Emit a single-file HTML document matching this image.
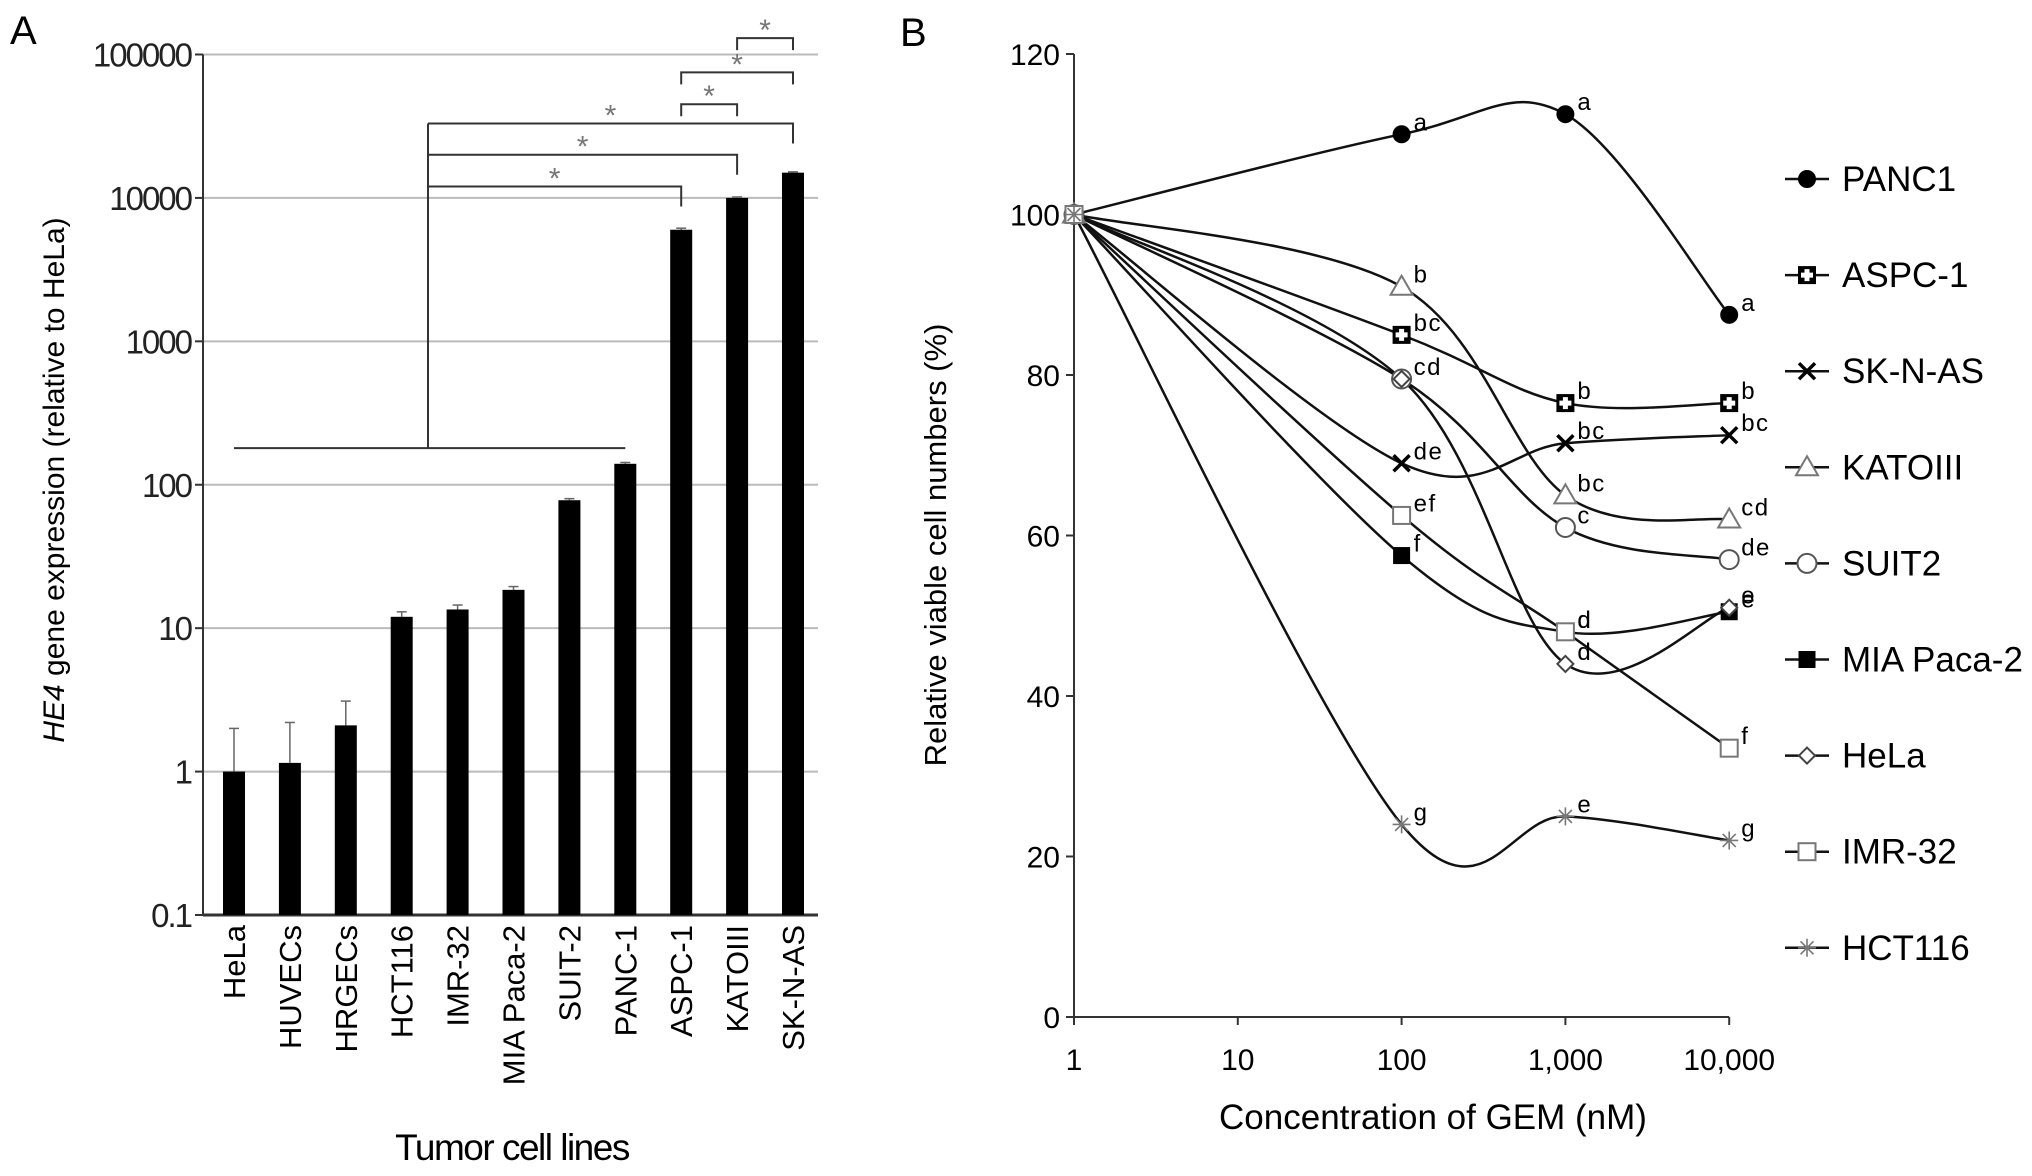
<!DOCTYPE html>
<html><head><meta charset="utf-8"><style>
html,body{margin:0;padding:0;background:#fff;}
svg{display:block;font-family:"Liberation Sans",sans-serif;}
</style></head><body>
<svg id="fig" width="2032" height="1176" viewBox="0 0 2032 1176" xmlns="http://www.w3.org/2000/svg"></svg>
<script>
// ---------- Panel A data ----------
const cellLines = ["HeLa","HUVECs","HRGECs","HCT116","IMR-32","MIA Paca-2","SUIT-2","PANC-1","ASPC-1","KATOIII","SK-N-AS"];
const expression = [1,1.15,2.1,12,13.5,18.5,78,140,6000,10000,15000];
const errorTop = [2.0,2.2,3.1,13,14.5,19.5,80,143,6150,10150,15200];
const aTicks = [0.1,1,10,100,1000,10000,100000];
const aTickLabels = ["0.1","1","10","100","1000","10000","100000"];
const bracketGroupIdx = [8,9,10];
const bracketLevels = [12000,20000,33000];
const smallBrackets = [[8,9,45000],[8,10,75000],[9,10,130000]];

// ---------- Panel B data ----------
const concentrations = [1,100,1000,10000];
const bTicks = [0,20,40,60,80,100,120];
const xTickLabels = ["1","10","100","1,000","10,000"];
const seriesNames = ["PANC1","ASPC-1","SK-N-AS","KATOIII","SUIT2","MIA Paca-2","HeLa","IMR-32","HCT116"];
const panc1 = [100,110,112.5,87.5];
const aspc1 = [100,85,76.5,76.5];
const sknas = [100,69,71.5,72.5];
const kato = [100,91,65,62];
const suit2 = [100,79.5,61,57];
const mia = [100,57.5,48,50.5];
const hela = [100,79.5,44,51];
const imr32 = [100,62.5,48,33.5];
const hct116 = [100,24,25,22];
const seriesValues = [panc1,aspc1,sknas,kato,suit2,mia,hela,imr32,hct116];
const seriesLetters = [
 ["","a","a","a"],["","bc","b","b"],["","de","bc","bc"],["","b","bc","cd"],
 ["","cd","c","de"],["","f","d","e"],["","","d","e"],["","ef","d","f"],["","g","e","g"]];

const NS="http://www.w3.org/2000/svg";
const svg=document.getElementById('fig');
function mk(tag,attrs,parent){const e=document.createElementNS(NS,tag);for(const k in attrs)e.setAttribute(k,attrs[k]);(parent||svg).appendChild(e);return e;}
function txt(s,attrs,parent){const e=mk('text',attrs,parent);e.textContent=s;return e;}

// ---------- Panel A ----------
const aX0=203,aX1=818,aTop=54.5,aBot=915;
const aY=v=>aBot-(Math.log10(v)+1)/6*(aBot-aTop);
const aBx=i=>234+i*55.9;
const gA=mk('g',{});


txt("A",{x:10,y:44,'font-size':40},gA);
aTicks.forEach((t,i)=>{
  const y=aY(t);
  if(i>0){const l=mk('line',{x1:aX0,x2:aX1,y1:y,y2:y,stroke:'#bbb','stroke-width':2},gA);}
  mk('line',{x1:aX0-8,x2:aX0,y1:y,y2:y,stroke:'#333','stroke-width':2},gA);
  const tl=txt(aTickLabels[i],{x:aX0-12,y:y+12,'font-size':33,'text-anchor':'end',fill:'#222','letter-spacing':'-2'},gA);
  
});
mk('line',{x1:aX0,x2:aX0,y1:aTop,y2:aBot,stroke:'#333','stroke-width':2},gA);
mk('line',{x1:aX0,x2:aX1,y1:aBot,y2:aBot,stroke:'#333','stroke-width':3},gA);
cellLines.forEach((n,i)=>{
  const cx=aBx(i);
  const ey=aY(errorTop[i]);
  const e=mk('line',{x1:cx,x2:cx,y1:ey,y2:aY(expression[i]),stroke:'#666','stroke-width':1.5},gA);
  
  mk('line',{x1:cx-5,x2:cx+5,y1:ey,y2:ey,stroke:'#666','stroke-width':1.5},gA);
  const b=mk('rect',{x:cx-11,y:aY(expression[i]),width:22,height:aBot-aY(expression[i]),fill:'#000'},gA);
  
  
  const t=txt(n,{x:0,y:0,'font-size':31,'text-anchor':'end',transform:`translate(${cx+11},${aBot+10}) rotate(-90)`},gA);
  
});
const brStroke={stroke:'#333','stroke-width':2,fill:'none'};
const baseY=aY(180), stemX=428;
mk('line',Object.assign({x1:aBx(0),x2:aBx(7),y1:baseY,y2:baseY},brStroke),gA);
mk('line',Object.assign({x1:stemX,x2:stemX,y1:baseY,y2:aY(bracketLevels[2])},brStroke),gA);
bracketGroupIdx.forEach((bi,k)=>{
  const y=aY(bracketLevels[k]);
  const p=mk('polyline',Object.assign({points:`${stemX},${y} ${aBx(bi)},${y} ${aBx(bi)},${y+20}`},brStroke),gA);
  
  txt("*",{x:(stemX+aBx(bi))/2,y:y+2,'font-size':30,'text-anchor':'middle',fill:'#777'},gA);
});
smallBrackets.forEach(([a,b,v])=>{
  const y=aY(v);
  const p=mk('polyline',Object.assign({points:`${aBx(a)},${y+12} ${aBx(a)},${y} ${aBx(b)},${y} ${aBx(b)},${y+12}`},brStroke),gA);
  
  txt("*",{x:(aBx(a)+aBx(b))/2,y:y+2,'font-size':30,'text-anchor':'middle',fill:'#777'},gA);
});
const yt=mk('text',{x:0,y:0,'font-size':30,'text-anchor':'middle',transform:'translate(64,480) rotate(-90)'},gA);

yt.innerHTML='<tspan font-style="italic">HE4</tspan> gene expression (relative to HeLa)';
txt("Tumor cell lines",{x:512,y:1160,'font-size':37,'text-anchor':'middle','letter-spacing':'-1.5'},gA);

// ---------- Panel B ----------
const bX0=1074,bTop=54,bBot=1017;
const bX=c=>bX0+Math.log10(c)*163.8;
const bY=v=>bBot-v/120*(bBot-bTop);
const gB=mk('g',{});


txt("B",{x:900,y:46,'font-size':40},gB);
mk('line',{x1:bX0,x2:bX0,y1:bTop,y2:bBot,stroke:'#333','stroke-width':2},gB);
mk('line',{x1:bX0,x2:bX(10000),y1:bBot,y2:bBot,stroke:'#333','stroke-width':2},gB);
bTicks.forEach(t=>{
  mk('line',{x1:bX0-8,x2:bX0,y1:bY(t),y2:bY(t),stroke:'#333','stroke-width':2},gB);
  const l=txt(String(t),{x:bX0-14,y:bY(t)+11,'font-size':30,'text-anchor':'end'},gB);
  
});
xTickLabels.forEach((s,i)=>{
  const x=bX(Math.pow(10,i));
  mk('line',{x1:x,x2:x,y1:bBot,y2:bBot+8,stroke:'#333','stroke-width':2},gB);
  const l=txt(s,{x:x,y:1070,'font-size':30,'text-anchor':'middle'},gB);
  
});
txt("Concentration of GEM (nM)",{x:1433,y:1129,'font-size':35,'text-anchor':'middle'},gB);
txt("Relative viable cell numbers (%)",{x:0,y:0,'font-size':31,'text-anchor':'middle',transform:'translate(946,545) rotate(-90)'},gB);

function marker(k,x,y,parent){
  const g=mk('g',{},parent);
  switch(k){
    case 0: mk('circle',{cx:x,cy:y,r:9,fill:'#000'},g);break;
    case 1: mk('rect',{x:x-9,y:y-9,width:18,height:18,fill:'#000'},g);
            mk('path',{d:`M${x-2.5},${y-6}h5v3.5h3.5v5h-3.5v3.5h-5v-3.5h-3.5v-5h3.5z`,fill:'#fff'},g);break;
    case 2: mk('path',{d:`M${x-8},${y-8}L${x+8},${y+8}M${x+8},${y-8}L${x-8},${y+8}`,stroke:'#000','stroke-width':3.5},g);break;
    case 3: mk('path',{d:`M${x},${y-11}L${x+11},${y+8}L${x-11},${y+8}Z`,fill:'#fff',stroke:'#777','stroke-width':2},g);break;
    case 4: mk('circle',{cx:x,cy:y,r:9.5,fill:'#fff',stroke:'#555','stroke-width':2},g);break;
    case 5: mk('rect',{x:x-8.5,y:y-8.5,width:17,height:17,fill:'#000'},g);break;
    case 6: mk('path',{d:`M${x},${y-8}L${x+8},${y}L${x},${y+8}L${x-8},${y}Z`,fill:'#fff',stroke:'#444','stroke-width':2},g);break;
    case 7: mk('rect',{x:x-8.5,y:y-8.5,width:17,height:17,fill:'#fff',stroke:'#777','stroke-width':2},g);break;
    case 8: mk('path',{d:`M${x-9},${y}H${x+9}M${x},${y-9}V${y+9}M${x-6.5},${y-6.5}L${x+6.5},${y+6.5}M${x+6.5},${y-6.5}L${x-6.5},${y+6.5}`,stroke:'#777','stroke-width':1.6},g);break;
  }
  return g;
}
function smoothPath(pts){
  let d=`M${pts[0][0]},${pts[0][1]}`;
  for(let i=0;i<pts.length-1;i++){
    const p0=pts[Math.max(0,i-1)],p1=pts[i],p2=pts[i+1],p3=pts[Math.min(pts.length-1,i+2)];
    const t=1/6;
    const c1=[p1[0]+(p2[0]-p0[0])*t,p1[1]+(p2[1]-p0[1])*t];
    const c2=[p2[0]-(p3[0]-p1[0])*t,p2[1]-(p3[1]-p1[1])*t];
    d+=` C${c1[0]},${c1[1]} ${c2[0]},${c2[1]} ${p2[0]},${p2[1]}`;
  }
  return d;
}
seriesNames.forEach((n,k)=>{
  const vals=seriesValues[k];
  const pts=concentrations.map((c,i)=>[bX(c),bY(vals[i])]);
  const g=mk('g',{},gB);
  
  
  mk('path',{d:smoothPath(pts),fill:'none',stroke:'#111','stroke-width':2.5},g);
});
seriesNames.forEach((n,k)=>{
  const vals=seriesValues[k];
  concentrations.forEach((c,i)=>{
    const m=marker(k,bX(c),bY(vals[i]),gB);
    
    
    const L=seriesLetters[k][i];
    if(L){const t=txt(L,{x:bX(c)+12,y:bY(vals[i])-4,'font-size':24,'letter-spacing':'1.5'},gB);
      }
  });
});
seriesNames.forEach((n,k)=>{
  const y=179+k*96.1;
  const g=mk('g',{},gB);
  
  
  mk('line',{x1:1785,x2:1829,y1:y,y2:y,stroke:'#111','stroke-width':2.5},g);
  marker(k,1807,y,g);
  txt(n,{x:1842,y:y+12,'font-size':35},g);
});
</script>
</body></html>
